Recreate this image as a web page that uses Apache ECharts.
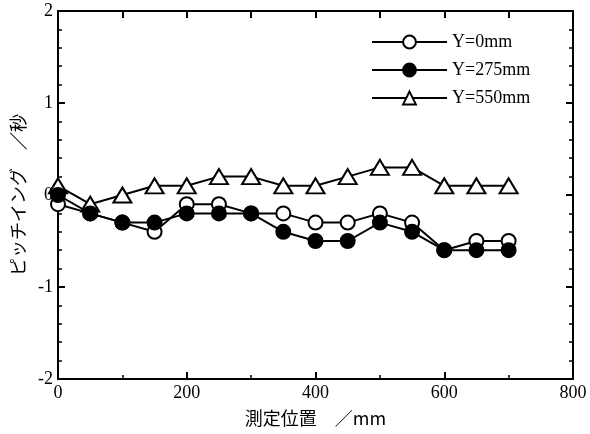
<!DOCTYPE html>
<html>
<head>
<meta charset="utf-8">
<script src="https://cdn.jsdelivr.net/npm/echarts@6/dist/echarts.min.js"></script>
<style>
  html, body { margin: 0; padding: 0; background: #fff; }
  #chart { width: 590px; height: 434px; }
</style>
</head>
<body>
<div id="chart"></div>
<script>
// 測定位置 (mm)
const positions = [0, 50, 100, 150, 200, 250, 300, 350, 400, 450, 500, 550, 600, 650, 700];
const seriesNames = ['Y=0mm', 'Y=275mm', 'Y=550mm'];
const y0 = [-0.1, -0.2, -0.3, -0.4, -0.1, -0.1, -0.2, -0.2, -0.3, -0.3, -0.2, -0.3, -0.6, -0.5, -0.5];
const y275 = [0, -0.2, -0.3, -0.3, -0.2, -0.2, -0.2, -0.4, -0.5, -0.5, -0.3, -0.4, -0.6, -0.6, -0.6];
const y550 = [0.1, -0.1, 0, 0.1, 0.1, 0.2, 0.2, 0.1, 0.1, 0.2, 0.3, 0.3, 0.1, 0.1, 0.1];

const pairs = (ys) => positions.map((x, i) => [x, ys[i]]);

const serif = 'Liberation Serif';
const cjk = 'Noto Sans CJK JP';

const axisLine = { show: true, onZero: false, lineStyle: { color: '#000', width: 2 } };
const axisTick = { show: true, inside: true, length: 7, lineStyle: { color: '#000', width: 2 } };
const minorY = { show: true, splitNumber: 5, length: 4, lineStyle: { color: '#000', width: 1.5 } };

let myChart = echarts.init(document.getElementById('chart'));
const option = {
  animation: false,
  grid: { left: 58, right: 17, top: 11, bottom: 55 },
  legend: {
    data: seriesNames,
    orient: 'vertical',
    left: 366,
    top: 28,
    itemWidth: 75,
    itemHeight: 16,
    itemGap: 10,
    textStyle: { fontFamily: serif, fontSize: 18, color: '#000', padding: [0, 0, 0, 0] },
  },
  xAxis: [
    {
      type: 'value', min: 0, max: 800, interval: 200, position: 'bottom',
      axisLine, axisTick, splitLine: { show: false },
      minorTick: { show: true, splitNumber: 2, length: 4, lineStyle: { color: '#000', width: 1.5 } },
      axisLabel: { fontFamily: serif, fontSize: 18, color: '#000', margin: 5 },
      name: '測定位置　／mm',
      nameLocation: 'middle',
      nameGap: 30,
      nameTextStyle: { fontFamily: cjk, fontSize: 18, color: '#000' },
    },
    {
      type: 'value', min: 0, max: 800, interval: 100, position: 'top',
      axisLine, axisTick, splitLine: { show: false },
      axisLabel: { show: false },
    },
  ],
  yAxis: [
    {
      type: 'value', min: -2, max: 2, interval: 1, position: 'left',
      axisLine, axisTick, splitLine: { show: false }, minorTick: minorY,
      axisLabel: { fontFamily: serif, fontSize: 18, color: '#000', margin: 5 },
      name: 'ピッチイング　／秒',
      nameLocation: 'middle',
      nameGap: 31,
      nameRotate: 90,
      nameTextStyle: { fontFamily: cjk, fontSize: 18, color: '#000' },
    },
    {
      type: 'value', min: -2, max: 2, interval: 1, position: 'right',
      axisLine, axisTick, splitLine: { show: false }, minorTick: minorY,
      axisLabel: { show: false },
    },
  ],
  series: [
    {
      name: seriesNames[0], type: 'line', data: pairs(y0),
      symbol: 'circle', symbolSize: 14,
      lineStyle: { color: '#000', width: 2 },
      itemStyle: { color: '#fff', borderColor: '#000', borderWidth: 2 },
      z: 3,
    },
    {
      name: seriesNames[1], type: 'line', data: pairs(y275),
      symbol: 'circle', symbolSize: 14,
      lineStyle: { color: '#000', width: 2 },
      itemStyle: { color: '#000', borderColor: '#000', borderWidth: 2 },
      z: 4,
    },
    {
      name: seriesNames[2], type: 'line', data: pairs(y550),
      symbol: 'triangle', symbolSize: [18, 15],
      lineStyle: { color: '#000', width: 2 },
      itemStyle: { color: '#fff', borderColor: '#000', borderWidth: 2 },
      z: 3,
    },
  ],
};
myChart.setOption(option, true);
</script>
</body>
</html>
